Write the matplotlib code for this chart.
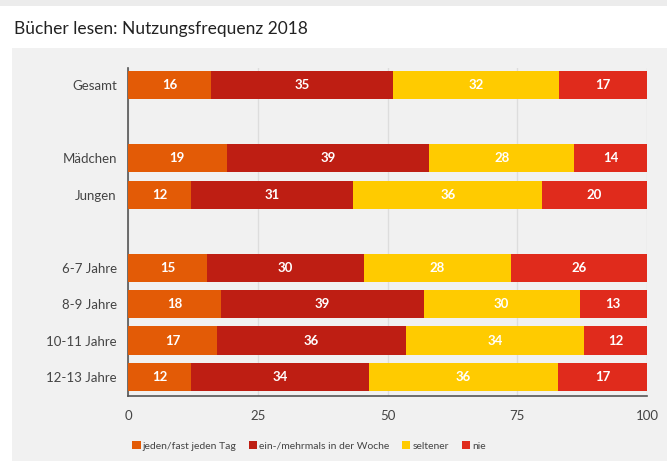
import matplotlib.pyplot as plt
import matplotlib.patches as mpatches
import numpy as np

plt.rcParams['font.family'] = ['Lato', 'DejaVu Sans']

groups = ['Gesamt', 'Mädchen', 'Jungen', '6-7 Jahre', '8-9 Jahre', '10-11 Jahre', '12-13 Jahre']
slots = [0, 2, 3, 5, 6, 7, 8]
series = ['jeden/fast jeden Tag', 'ein-/mehrmals in der Woche', 'seltener', 'nie']
taeglich = [16, 19, 12, 15, 18, 17, 12]
woechentlich = [35, 39, 31, 30, 39, 36, 34]
seltener = [32, 28, 36, 28, 30, 34, 36]
nie = [17, 14, 20, 26, 13, 12, 17]
colors = ['#E35B06', '#BE1E13', '#FFCB00', '#E02B1C']

data = np.array([taeglich, woechentlich, seltener, nie], dtype=float)
# rows are shown as 100 % stacked bars (rounded values do not always add up to 100)
shares = data / data.sum(axis=0) * 100

fig = plt.figure(figsize=(6.67, 4.61), dpi=100)
fig.patch.set_facecolor('white')
fig.patches.append(mpatches.Rectangle((12 / 667, 0), 1, 1 - 48 / 461, transform=fig.transFigure,
                                      facecolor='#f1f1f1', edgecolor='none', zorder=-5))
fig.patches.append(mpatches.Rectangle((0, 1 - 6 / 461), 1, 6 / 461, transform=fig.transFigure,
                                      facecolor='#ececec', edgecolor='none', zorder=-5))
fig.text(14 / 667, 1 - 29 / 461, 'Bücher lesen: Nutzungsfrequenz 2018', fontsize=12.5,
         color='#222222', va='center', ha='left')

ax = fig.add_axes([128 / 667, 1 - 396 / 461, (647 - 128) / 667, (396 - 68) / 461])
ax.set_facecolor('none')

left = np.zeros(len(groups))
for vals, widths, col, name in zip(data, shares, colors, series):
    bars = ax.barh(slots, widths, left=left, height=0.77, color=col, label=name, zorder=3)
    for b, v in zip(bars, vals):
        ax.text(b.get_x() + b.get_width() / 2, b.get_y() + b.get_height() / 2, str(int(v)),
                ha='center', va='center', color='white', fontsize=9.5, fontweight='bold', zorder=4)
    left += widths

ax.set_xlim(0, 100)
ax.set_ylim(8.52, -0.47)
ax.set_yticks(slots)
ax.set_yticklabels(groups, fontsize=9.5, color='#444444')
ax.set_xticks([0, 25, 50, 75, 100])
ax.set_xticklabels(['0', '25', '50', '75', '100'], fontsize=9.5, color='#444444')
ax.tick_params(length=0, pad=8)
ax.tick_params(axis='x', pad=10)
ax.grid(axis='x', color='#dddddd', linewidth=1, zorder=0)
for s in ['top', 'right']:
    ax.spines[s].set_visible(False)
for s in ['left', 'bottom']:
    ax.spines[s].set_color('#555555')
    ax.spines[s].set_linewidth(1.2)

leg = fig.legend(loc='center left', bbox_to_anchor=(128 / 667, 1 - 446 / 461), ncol=4, frameon=False,
                 fontsize=7.5, handlelength=0.8, handleheight=0.8, handletextpad=0.2, columnspacing=1.2,
                 labelcolor='#444444', borderaxespad=0)

fig.savefig('out.png', dpi=100, facecolor=fig.get_facecolor())
